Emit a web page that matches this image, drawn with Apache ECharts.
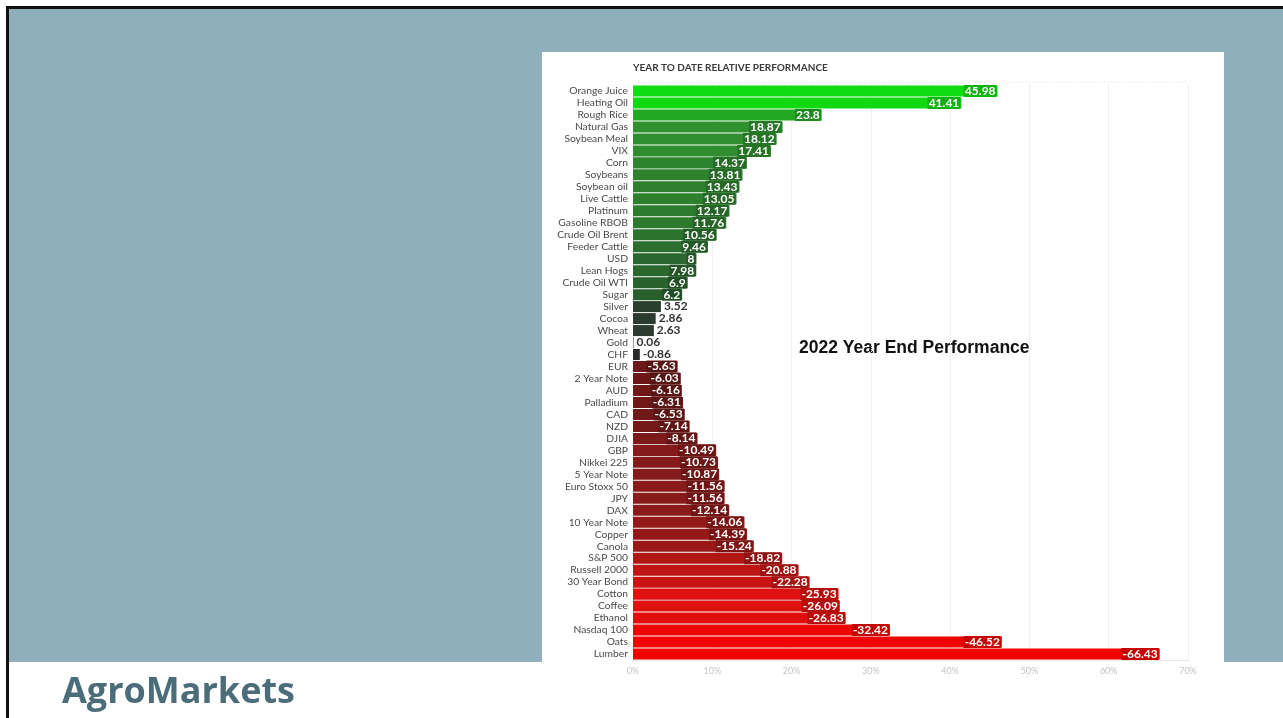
<!DOCTYPE html>
<html>
<head>
<meta charset="utf-8">
<script src="https://cdn.jsdelivr.net/npm/echarts@6/dist/echarts.min.js"></script>
<style>
html,body{margin:0;padding:0;background:#fff;width:1283px;height:718px;overflow:hidden;}
#bl{position:absolute;left:6px;top:6px;width:3px;height:712px;background:#111;}
#bt{position:absolute;left:6px;top:6px;width:1277px;height:3px;background:#111;}
#panel{position:absolute;left:9px;top:9px;width:1274px;height:653px;background:#8fb0ba;}
#white{position:absolute;left:542px;top:52px;width:682px;height:610px;background:#fff;}
#chart{position:absolute;left:0;top:0;width:1283px;height:718px;}
</style>
</head>
<body>
<div id="bl"></div><div id="bt"></div><div id="panel"></div><div id="white"></div>
<div id="chart"></div>
<script>
const categories = ["Orange Juice","Heating Oil","Rough Rice","Natural Gas","Soybean Meal","VIX","Corn","Soybeans","Soybean oil","Live Cattle","Platinum","Gasoline RBOB","Crude Oil Brent","Feeder Cattle","USD","Lean Hogs","Crude Oil WTI","Sugar","Silver","Cocoa","Wheat","Gold","CHF","EUR","2 Year Note","AUD","Palladium","CAD","NZD","DJIA","GBP","Nikkei 225","5 Year Note","Euro Stoxx 50","JPY","DAX","10 Year Note","Copper","Canola","S&P 500","Russell 2000","30 Year Bond","Cotton","Coffee","Ethanol","Nasdaq 100","Oats","Lumber"];
const values = [45.98,41.41,23.8,18.87,18.12,17.41,14.37,13.81,13.43,13.05,12.17,11.76,10.56,9.46,8,7.98,6.9,6.2,3.52,2.86,2.63,0.06,-0.86,-5.63,-6.03,-6.16,-6.31,-6.53,-7.14,-8.14,-10.49,-10.73,-10.87,-11.56,-11.56,-12.14,-14.06,-14.39,-15.24,-18.82,-20.88,-22.28,-25.93,-26.09,-26.83,-32.42,-46.52,-66.43];
const axisTicks = [0,10,20,30,40,50,60,70];
const chartTitle = "YEAR TO DATE RELATIVE PERFORMANCE";
const overlayText = "2022 Year End Performance";
const brand = "AgroMarkets";

const stops = [
 [-66.43,[242,0,0]],[-32,[238,5,5]],[-26,[222,16,16]],[-22,[200,20,20]],[-19,[178,22,22]],
 [-15,[152,24,24]],[-12,[138,26,26]],[-8,[122,26,26]],[-5.6,[106,24,24]],[-0.86,[40,40,40]],
 [0.06,[60,60,60]],[2.6,[43,59,45]],[3.5,[43,63,45]],[6.2,[40,95,44]],[9.5,[43,110,47]],
 [13,[46,127,46]],[18.9,[47,146,47]],[23.8,[34,168,34]],[41,[17,217,17]],[46,[17,220,17]]
];
function colorFor(v){
  let a=stops[0], b=stops[stops.length-1];
  if(v<=a[0]) return rgb(a[1]);
  if(v>=b[0]) return rgb(b[1]);
  for(let i=0;i<stops.length-1;i++){
    const s=stops[i], t=stops[i+1];
    if(v>=s[0]&&v<=t[0]){
      const f=(v-s[0])/(t[0]-s[0]);
      return rgb(s[1].map((c,k)=>Math.round(c+(t[1][k]-c)*f)));
    }
  }
}
function rgb(c){return 'rgb('+c.join(',')+')';}
function darker(v){
  const c=colorFor(v).match(/\d+/g).map(Number).map(x=>Math.round(x*0.82));
  return rgb(c);
}

const data = values.map(v=>{
  const small = Math.abs(v) < 5;
  return {
    value: Math.abs(v),
    itemStyle:{color: colorFor(v)},
    label: small ? {
      position:'right', distance:3, color:'#333', fontWeight:'bold', fontSize:12
    } : {
      position:'insideRight', distance:1, color:'#fff', fontWeight:'bold', fontSize:12,
      backgroundColor: darker(v), padding:[0,1]
    }
  };
});

const chart = echarts.init(document.getElementById('chart'), null, {renderer:'canvas'});
chart.setOption({
  backgroundColor:'transparent',
  animation:false,
  grid:{left:633, right:95, top:85, bottom:58, containLabel:false},
  xAxis:{
    type:'value', min:0, max:70, interval:10,
    axisLabel:{formatter:v=>v+'%', color:'#c4c4c4', fontSize:9, fontFamily:'Lato', margin:7},
    axisLine:{show:true, lineStyle:{color:'#e4e4e4', type:'dotted'}},
    axisTick:{show:false},
    splitLine:{show:true, lineStyle:{color:'#e2e2e2', type:'dotted'}}
  },
  yAxis:{
    type:'category', data:categories, inverse:true,
    axisLine:{show:false}, axisTick:{show:false},
    axisLabel:{color:'#4a4a4a', fontSize:10.3, fontFamily:'Lato', margin:5, interval:0}
  },
  series:[{
    type:'bar', data:data, barCategoryGap:'8%',
    label:{show:true, fontFamily:'Lato', formatter:p=>String(values[p.dataIndex])}
  }],
  graphic:[
    {type:'line', shape:{x1:633,y1:82,x2:1188,y2:82}, style:{stroke:'#e2e2e2', lineDash:[1,2], lineWidth:1}, silent:true},
    {type:'text', left:633, top:63, style:{text:chartTitle, fill:'#3a3a3a', font:'bold 10px Lato'}},
    {type:'text', left:799, top:339, style:{text:overlayText, fill:'#111', font:'bold 17.5px "Liberation Sans", Arial'}},
    {type:'text', left:62, top:675, style:{text:brand, fill:'#4b6d7a', font:'bold 36px "Open Sans"'}}
  ]
});
</script>
</body>
</html>
